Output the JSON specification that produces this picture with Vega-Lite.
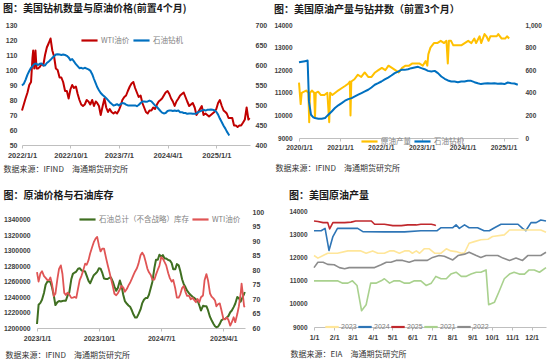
{
"$schema": "https://vega.github.io/schema/vega-lite/v6.json",
"padding": {"left": 2, "top": 4, "right": 0, "bottom": 0},
"background": "white",
"columns": 4,
"align": "none",
"spacing": {"row": 18, "column": 0},
"resolve": {"scale": {"color": "independent"}, "legend": {"color": "independent"}},
"config": {
  "view": {"stroke": null},
  "font": "Noto Sans CJK SC",
  "axis": {"grid": false, "labelFont": "Liberation Sans", "labelFontSize": 7, "labelColor": "#404040", "labelFontWeight": "bold", "domain": false, "ticks": false, "titleFont": "Noto Sans CJK SC", "titleFontSize": 8, "titleFontWeight": "normal", "titleColor": "#333333", "titleAnchor": "start", "titleAlign": "left", "titleBaseline": "middle"},
  "axisX": {"domain": true, "domainColor": "#bfbfbf", "ticks": true, "tickColor": "#bfbfbf", "tickSize": 3, "labelPadding": 3, "labelOverlap": false, "labelFlush": false},
  "title": {"anchor": "start", "fontSize": 10, "fontWeight": "bold", "font": "Noto Sans CJK SC", "color": "#1a1a1a", "frame": "bounds", "offset": 7},
  "legend": {"labelFont": "Noto Sans CJK SC", "labelFontSize": 7.5, "labelColor": "#7f7f7f", "symbolType": "stroke", "symbolStrokeWidth": 2.2, "symbolSize": 260, "title": null, "orient": "none", "direction": "horizontal", "columnPadding": 2, "labelOffset": 2, "padding": 0},
  "line": {"strokeJoin": "round"}
},
"concat": [
{"width": 1, "height": 1, "data": {"values": []}, "mark": {"type": "point", "opacity": 0}},
{
  "title": {"text": "图：美国钻机数量与原油价格(前置4个月)"},
  "width": 228, "height": 120,
  "encoding": {"x": {"field": "d", "type": "temporal",
    "scale": {"domain": [{"year": 2022, "month": 1, "date": 1}, {"year": 2025, "month": 7, "date": 10}]},
    "axis": {"values": [{"year": 2022, "month": 1, "date": 1}, {"year": 2022, "month": 10, "date": 1}, {"year": 2023, "month": 7, "date": 1}, {"year": 2024, "month": 4, "date": 1}, {"year": 2025, "month": 1, "date": 1}], "format": "%Y/%-m/%-d", "labelFontSize": 7.5, "title": "数据来源：IFIND\u3000海通期货研究所", "titleX": -19, "titleY": 24}}},
  "layer": [
    {"data": {"values": [
{"d":"2022-01-01","v":73},{"d":"2022-01-11","v":77},{"d":"2022-01-21","v":81},{"d":"2022-02-01","v":85},{"d":"2022-02-11","v":90},{"d":"2022-02-21","v":92},{"d":"2022-03-01","v":108},{"d":"2022-03-05","v":113},{"d":"2022-03-11","v":101},{"d":"2022-03-18","v":113},{"d":"2022-03-24","v":101},{"d":"2022-04-01","v":101},{"d":"2022-04-11","v":102},{"d":"2022-04-21","v":104},{"d":"2022-05-01","v":103},{"d":"2022-05-11","v":110},{"d":"2022-05-21","v":115},{"d":"2022-06-01","v":118},{"d":"2022-06-11","v":121},{"d":"2022-06-21","v":113},{"d":"2022-07-01","v":109},{"d":"2022-07-11","v":101},{"d":"2022-07-21","v":100},{"d":"2022-08-01","v":95},{"d":"2022-08-11","v":95},{"d":"2022-08-21","v":92},{"d":"2022-09-01","v":86},{"d":"2022-09-11","v":86},{"d":"2022-09-21","v":81},{"d":"2022-10-01","v":87},{"d":"2022-10-11","v":90},{"d":"2022-10-21","v":88},{"d":"2022-11-01","v":89},{"d":"2022-11-11","v":84},{"d":"2022-11-21","v":80},{"d":"2022-12-01","v":77},{"d":"2022-12-11","v":76},{"d":"2022-12-21","v":77},
{"d":"2023-01-01","v":80},{"d":"2023-01-11","v":79},{"d":"2023-01-21","v":77},{"d":"2023-02-01","v":80},{"d":"2023-02-11","v":76},{"d":"2023-02-21","v":79},{"d":"2023-03-01","v":78},{"d":"2023-03-11","v":76},{"d":"2023-03-21","v":70},{"d":"2023-04-01","v":76},{"d":"2023-04-11","v":81},{"d":"2023-04-21","v":75},{"d":"2023-05-01","v":72},{"d":"2023-05-11","v":74},{"d":"2023-05-21","v":72},{"d":"2023-06-01","v":71},{"d":"2023-06-11","v":72},{"d":"2023-06-21","v":71},{"d":"2023-07-01","v":73},{"d":"2023-07-11","v":76},{"d":"2023-07-21","v":80},{"d":"2023-08-01","v":82},{"d":"2023-08-11","v":83},{"d":"2023-08-21","v":86},{"d":"2023-09-01","v":89},{"d":"2023-09-11","v":91},{"d":"2023-09-21","v":92},{"d":"2023-10-01","v":88},{"d":"2023-10-11","v":85},{"d":"2023-10-21","v":82},{"d":"2023-11-01","v":83},{"d":"2023-11-11","v":78},{"d":"2023-11-21","v":75},{"d":"2023-12-01","v":72},{"d":"2023-12-11","v":71},{"d":"2023-12-21","v":73},
{"d":"2024-01-01","v":73},{"d":"2024-01-11","v":75},{"d":"2024-01-21","v":74},{"d":"2024-02-01","v":77},{"d":"2024-02-11","v":79},{"d":"2024-02-21","v":80},{"d":"2024-03-01","v":81},{"d":"2024-03-11","v":83},{"d":"2024-03-21","v":85},{"d":"2024-04-01","v":86},{"d":"2024-04-11","v":84},{"d":"2024-04-21","v":81},{"d":"2024-05-01","v":79},{"d":"2024-05-11","v":76},{"d":"2024-05-21","v":79},{"d":"2024-06-01","v":81},{"d":"2024-06-11","v":83},{"d":"2024-06-21","v":84},{"d":"2024-07-01","v":85},{"d":"2024-07-11","v":82},{"d":"2024-07-21","v":79},{"d":"2024-08-01","v":76},{"d":"2024-08-11","v":77},{"d":"2024-08-21","v":78},{"d":"2024-09-01","v":75},{"d":"2024-09-11","v":70},{"d":"2024-09-21","v":72},{"d":"2024-10-01","v":74},{"d":"2024-10-11","v":76},{"d":"2024-10-21","v":70},{"d":"2024-11-01","v":71},{"d":"2024-11-11","v":70},{"d":"2024-11-21","v":69},{"d":"2024-12-01","v":70},{"d":"2024-12-11","v":71},{"d":"2024-12-21","v":72},
{"d":"2025-01-01","v":74},{"d":"2025-01-11","v":78},{"d":"2025-01-21","v":80},{"d":"2025-02-01","v":76},{"d":"2025-02-11","v":73},{"d":"2025-02-21","v":72},{"d":"2025-03-01","v":71},{"d":"2025-03-11","v":68},{"d":"2025-03-21","v":68},{"d":"2025-04-01","v":68},{"d":"2025-04-11","v":63},{"d":"2025-04-21","v":63},{"d":"2025-05-01","v":62},{"d":"2025-05-11","v":63},{"d":"2025-05-21","v":63},{"d":"2025-06-01","v":65},{"d":"2025-06-11","v":67},{"d":"2025-06-21","v":75},{"d":"2025-07-01","v":67},{"d":"2025-07-08","v":68}
    ]},
    "mark": {"type": "line", "strokeWidth": 2},
    "encoding": {
      "y": {"field": "v", "type": "quantitative", "scale": {"domain": [50, 130]}, "axis": {"values": [50,60,70,80,90,100,110,120,130], "title": null, "labelPadding": 5}},
      "color": {"datum": "WTI油价", "scale": {"domain": ["WTI油价", "石油钻机"], "range": ["#C00000", "#0070C0"]}, "legend": {"legendX": 58, "legendY": 6}}
    }},
    {"data": {"values": [
{"d":"2022-01-01","v":549},{"d":"2022-01-11","v":553},{"d":"2022-01-21","v":563},{"d":"2022-02-01","v":576},{"d":"2022-02-11","v":585},{"d":"2022-02-21","v":593},{"d":"2022-03-01","v":597},{"d":"2022-03-11","v":602},{"d":"2022-03-21","v":604},{"d":"2022-04-01","v":600},{"d":"2022-04-11","v":603},{"d":"2022-04-21","v":604},{"d":"2022-05-01","v":599},{"d":"2022-05-11","v":599},{"d":"2022-05-21","v":605},{"d":"2022-06-01","v":609},{"d":"2022-06-11","v":613},{"d":"2022-06-21","v":618},{"d":"2022-07-01","v":622},{"d":"2022-07-11","v":626},{"d":"2022-07-21","v":627},{"d":"2022-08-01","v":626},{"d":"2022-08-11","v":625},{"d":"2022-08-21","v":626},{"d":"2022-09-01","v":625},{"d":"2022-09-11","v":623},{"d":"2022-09-21","v":619},{"d":"2022-10-01","v":612},{"d":"2022-10-11","v":615},{"d":"2022-10-21","v":609},{"d":"2022-11-01","v":602},{"d":"2022-11-11","v":597},{"d":"2022-11-21","v":592},{"d":"2022-12-01","v":593},{"d":"2022-12-11","v":591},{"d":"2022-12-21","v":593},
{"d":"2023-01-01","v":591},{"d":"2023-01-11","v":589},{"d":"2023-01-21","v":586},{"d":"2023-02-01","v":577},{"d":"2023-02-11","v":565},{"d":"2023-02-21","v":554},{"d":"2023-03-01","v":545},{"d":"2023-03-11","v":537},{"d":"2023-03-21","v":530},{"d":"2023-04-01","v":525},{"d":"2023-04-11","v":521},{"d":"2023-04-21","v":517},{"d":"2023-05-01","v":512},{"d":"2023-05-11","v":507},{"d":"2023-05-21","v":503},{"d":"2023-06-01","v":499},{"d":"2023-06-11","v":500},{"d":"2023-06-21","v":502},{"d":"2023-07-01","v":499},{"d":"2023-07-11","v":502},{"d":"2023-07-21","v":505},{"d":"2023-08-01","v":504},{"d":"2023-08-11","v":501},{"d":"2023-08-21","v":499},{"d":"2023-09-01","v":499},{"d":"2023-09-11","v":499},{"d":"2023-09-21","v":499},{"d":"2023-10-01","v":499},{"d":"2023-10-11","v":497},{"d":"2023-10-21","v":500},{"d":"2023-11-01","v":505},{"d":"2023-11-11","v":509},{"d":"2023-11-21","v":509},{"d":"2023-12-01","v":508},{"d":"2023-12-11","v":509},{"d":"2023-12-21","v":511},
{"d":"2024-01-01","v":509},{"d":"2024-01-11","v":504},{"d":"2024-01-21","v":499},{"d":"2024-02-01","v":495},{"d":"2024-02-11","v":490},{"d":"2024-02-21","v":485},{"d":"2024-03-01","v":481},{"d":"2024-03-11","v":479},{"d":"2024-03-21","v":480},{"d":"2024-04-01","v":485},{"d":"2024-04-11","v":486},{"d":"2024-04-21","v":486},{"d":"2024-05-01","v":485},{"d":"2024-05-11","v":486},{"d":"2024-05-21","v":485},{"d":"2024-06-01","v":486},{"d":"2024-06-11","v":482},{"d":"2024-06-21","v":482},{"d":"2024-07-01","v":480},{"d":"2024-07-11","v":480},{"d":"2024-07-21","v":478},{"d":"2024-08-01","v":479},{"d":"2024-08-11","v":479},{"d":"2024-08-21","v":478},{"d":"2024-09-01","v":478},{"d":"2024-09-11","v":479},{"d":"2024-09-21","v":482},{"d":"2024-10-01","v":484},{"d":"2024-10-11","v":486},{"d":"2024-10-21","v":488},{"d":"2024-11-01","v":486},{"d":"2024-11-11","v":488},{"d":"2024-11-21","v":488},{"d":"2024-12-01","v":489},{"d":"2024-12-11","v":488},{"d":"2024-12-21","v":487},
{"d":"2025-01-01","v":483},{"d":"2025-01-11","v":476},{"d":"2025-01-21","v":466},{"d":"2025-02-01","v":457},{"d":"2025-02-11","v":448},{"d":"2025-02-21","v":441},{"d":"2025-03-01","v":434},{"d":"2025-03-11","v":427},{"d":"2025-03-15","v":424}
    ]},
    "mark": {"type": "line", "strokeWidth": 2},
    "encoding": {
      "y": {"field": "v", "type": "quantitative", "scale": {"domain": [400, 700]}, "axis": {"orient": "right", "values": [400,450,500,550,600,650,700], "title": null, "labelPadding": 5}},
      "color": {"datum": "石油钻机"}
    }}
  ],
  "resolve": {"scale": {"y": "independent"}}
},
{"width": 5.8, "height": 1, "data": {"values": []}, "mark": {"type": "point", "opacity": 0}},
{
  "title": {"text": "图：美国原油产量与钻井数（前置3个月）"},
  "width": 219, "height": 113,
  "encoding": {"x": {"field": "d", "type": "temporal",
    "scale": {"domain": [{"year": 2020, "month": 1, "date": 1}, {"year": 2025, "month": 5, "date": 10}]},
    "axis": {"values": [{"year": 2020, "month": 1, "date": 1}, {"year": 2021, "month": 1, "date": 1}, {"year": 2022, "month": 1, "date": 1}, {"year": 2023, "month": 1, "date": 1}, {"year": 2024, "month": 1, "date": 1}, {"year": 2025, "month": 1, "date": 1}], "format": "%Y/%-m/%-d", "labelFontSize": 6.8, "title": "数据来源：IFIND\u3000海通期货研究所", "titleX": -24, "titleY": 30}}},
  "layer": [
    {"data": {"values": [
{"d":"2020-01-01","v":11450},{"d":"2020-01-16","v":10500},{"d":"2020-01-25","v":11000},{"d":"2020-02-15","v":11050},{"d":"2020-03-05","v":11100},{"d":"2020-03-25","v":11000},{"d":"2020-04-01","v":9700},{"d":"2020-04-08","v":11000},{"d":"2020-04-25","v":11100},{"d":"2020-05-15","v":11000},{"d":"2020-05-23","v":9900},{"d":"2020-05-30","v":11000},{"d":"2020-06-20","v":11050},{"d":"2020-07-15","v":10900},{"d":"2020-08-15","v":10900},{"d":"2020-09-10","v":11000},{"d":"2020-09-27","v":9700},{"d":"2020-10-05","v":11000},{"d":"2020-10-25","v":10900},{"d":"2020-11-20","v":11000},{"d":"2020-12-15","v":11100},
{"d":"2021-01-15","v":11200},{"d":"2021-02-15","v":11300},{"d":"2021-03-15","v":11400},{"d":"2021-03-30","v":11500},{"d":"2021-04-05","v":10000},{"d":"2021-04-12","v":11500},{"d":"2021-05-10","v":11600},{"d":"2021-06-10","v":11800},{"d":"2021-07-10","v":11700},{"d":"2021-08-10","v":11900},{"d":"2021-09-10","v":11700},{"d":"2021-10-10","v":11700},{"d":"2021-11-10","v":11900},{"d":"2021-12-10","v":12000},
{"d":"2022-01-10","v":12100},{"d":"2022-02-10","v":12000},{"d":"2022-03-10","v":12200},{"d":"2022-04-10","v":12100},{"d":"2022-05-10","v":12000},{"d":"2022-06-10","v":11900},{"d":"2022-07-10","v":12100},{"d":"2022-08-10","v":12200},{"d":"2022-09-10","v":12200},{"d":"2022-10-10","v":12300},{"d":"2022-11-10","v":12300},{"d":"2022-12-10","v":12300},
{"d":"2023-01-10","v":12200},{"d":"2023-02-05","v":12400},{"d":"2023-02-20","v":12200},{"d":"2023-03-01","v":12700},{"d":"2023-03-20","v":13000},{"d":"2023-04-20","v":13200},{"d":"2023-05-20","v":13200},{"d":"2023-06-20","v":13300},{"d":"2023-07-20","v":13200},{"d":"2023-08-10","v":13300},{"d":"2023-08-22","v":12300},{"d":"2023-09-01","v":13300},{"d":"2023-09-20","v":13300},{"d":"2023-10-10","v":13100},{"d":"2023-11-20","v":13100},{"d":"2023-12-20","v":13100},
{"d":"2024-01-20","v":13200},{"d":"2024-02-20","v":13300},{"d":"2024-03-20","v":13200},{"d":"2024-04-15","v":13400},{"d":"2024-05-01","v":13200},{"d":"2024-06-01","v":13500},{"d":"2024-06-15","v":13200},{"d":"2024-07-15","v":13600},{"d":"2024-08-01","v":13500},{"d":"2024-08-20","v":13300},{"d":"2024-09-05","v":13500},{"d":"2024-10-10","v":13500},{"d":"2024-11-01","v":13500},{"d":"2024-11-15","v":13600},{"d":"2024-12-15","v":13400},{"d":"2025-01-15","v":13400},{"d":"2025-02-01","v":13500},{"d":"2025-02-20","v":13400}
    ]},
    "mark": {"type": "line", "strokeWidth": 2},
    "encoding": {
      "y": {"field": "v", "type": "quantitative", "scale": {"domain": [9000, 14000]}, "axis": {"values": [9000,10000,11000,12000,13000,14000], "format": "d", "title": null, "labelPadding": 7, "labelFontSize": 6.5}},
      "color": {"datum": "原油产量", "scale": {"domain": ["原油产量", "石油钻机"], "range": ["#FFC000", "#0070C0"]}, "legend": {"legendX": 61, "legendY": 107}}
    }},
    {"data": {"values": [
{"d":"2020-01-01","v":670},{"d":"2020-02-23","v":680},{"d":"2020-03-18","v":685},{"d":"2020-03-30","v":324},{"d":"2020-04-17","v":206},{"d":"2020-05-08","v":183},{"d":"2020-05-23","v":177},{"d":"2020-06-22","v":171},{"d":"2020-07-22","v":171},{"d":"2020-08-21","v":177},{"d":"2020-09-04","v":191},{"d":"2020-09-19","v":206},{"d":"2020-10-19","v":235},{"d":"2020-11-17","v":265},{"d":"2020-12-17","v":289},
{"d":"2021-01-16","v":309},{"d":"2021-02-15","v":330},{"d":"2021-03-16","v":344},{"d":"2021-04-15","v":353},{"d":"2021-05-14","v":368},{"d":"2021-06-13","v":383},{"d":"2021-07-12","v":397},{"d":"2021-08-11","v":412},{"d":"2021-09-10","v":427},{"d":"2021-10-09","v":447},{"d":"2021-11-08","v":471},{"d":"2021-12-08","v":485},
{"d":"2022-01-06","v":500},{"d":"2022-02-05","v":518},{"d":"2022-03-07","v":535},{"d":"2022-04-05","v":553},{"d":"2022-05-05","v":574},{"d":"2022-06-04","v":588},{"d":"2022-07-03","v":603},{"d":"2022-08-02","v":603},{"d":"2022-09-01","v":609},{"d":"2022-09-30","v":618},{"d":"2022-10-30","v":624},{"d":"2022-11-29","v":630},{"d":"2022-12-29","v":618},
{"d":"2023-01-27","v":609},{"d":"2023-02-26","v":594},{"d":"2023-03-28","v":588},{"d":"2023-04-27","v":594},{"d":"2023-05-26","v":574},{"d":"2023-06-25","v":544},{"d":"2023-07-25","v":524},{"d":"2023-08-23","v":509},{"d":"2023-09-22","v":500},{"d":"2023-10-22","v":500},{"d":"2023-11-20","v":494},{"d":"2023-12-20","v":500},
{"d":"2024-01-18","v":500},{"d":"2024-02-17","v":506},{"d":"2024-03-17","v":506},{"d":"2024-04-16","v":494},{"d":"2024-05-16","v":485},{"d":"2024-06-14","v":477},{"d":"2024-07-14","v":482},{"d":"2024-08-13","v":485},{"d":"2024-09-11","v":482},{"d":"2024-10-11","v":485},{"d":"2024-11-10","v":480},{"d":"2024-12-10","v":482},
{"d":"2025-01-09","v":477},{"d":"2025-02-08","v":491},{"d":"2025-03-10","v":485},{"d":"2025-04-08","v":482},{"d":"2025-05-08","v":471}
    ]},
    "mark": {"type": "line", "strokeWidth": 2},
    "encoding": {
      "y": {"field": "v", "type": "quantitative", "scale": {"domain": [0, 1000]}, "axis": {"orient": "right", "values": [0,200,400,600,800,1000], "title": null, "labelPadding": 7, "labelFontSize": 6.5}},
      "color": {"datum": "石油钻机"}
    }}
  ],
  "resolve": {"scale": {"y": "independent"}}
},
{"width": 1, "height": 1, "data": {"values": []}, "mark": {"type": "point", "opacity": 0}},
{
  "title": {"text": "图：原油价格与石油库存"},
  "width": 208, "height": 116,
  "encoding": {"x": {"field": "d", "type": "temporal",
    "scale": {"domain": [{"year": 2023, "month": 1, "date": 1}, {"year": 2025, "month": 7, "date": 5}]},
    "axis": {"values": [{"year": 2023, "month": 1, "date": 1}, {"year": 2023, "month": 10, "date": 1}, {"year": 2024, "month": 7, "date": 1}, {"year": 2025, "month": 4, "date": 1}], "format": "%Y/%-m/%-d", "labelFontSize": 7.1, "title": "数据来源：IFIND\u3000海通期货研究所", "titleX": -32, "titleY": 27}}},
  "layer": [
    {"data": {"values": [
{"d":"2023-01-01","v":1205200},{"d":"2023-01-08","v":1230000},{"d":"2023-01-16","v":1232500},{"d":"2023-01-23","v":1236500},{"d":"2023-02-01","v":1245700},{"d":"2023-02-08","v":1256000},{"d":"2023-02-16","v":1260000},{"d":"2023-02-23","v":1260000},{"d":"2023-03-01","v":1259600},{"d":"2023-03-08","v":1252600},{"d":"2023-03-16","v":1242000},{"d":"2023-03-23","v":1229600},{"d":"2023-04-01","v":1233500},{"d":"2023-04-08","v":1234800},{"d":"2023-04-16","v":1234300},{"d":"2023-04-23","v":1234800},{"d":"2023-05-01","v":1235400},{"d":"2023-05-08","v":1235200},{"d":"2023-05-16","v":1242200},{"d":"2023-05-23","v":1245700},{"d":"2023-06-01","v":1263000},{"d":"2023-06-08","v":1270000},{"d":"2023-06-16","v":1271700},{"d":"2023-06-23","v":1273000},{"d":"2023-07-01","v":1276600},{"d":"2023-07-08","v":1277300},{"d":"2023-07-16","v":1274400},{"d":"2023-07-23","v":1273900},{"d":"2023-08-01","v":1273000},{"d":"2023-08-08","v":1267400},{"d":"2023-08-16","v":1260900},{"d":"2023-08-23","v":1257800},{"d":"2023-09-01","v":1263900},{"d":"2023-09-08","v":1268300},{"d":"2023-09-16","v":1270400},{"d":"2023-09-23","v":1272600},{"d":"2023-10-01","v":1277200},{"d":"2023-10-08","v":1276800},{"d":"2023-10-16","v":1270900},{"d":"2023-10-23","v":1263900},{"d":"2023-11-01","v":1263500},{"d":"2023-11-08","v":1263400},{"d":"2023-11-16","v":1265000},{"d":"2023-11-23","v":1265200},{"d":"2023-12-01","v":1260000},{"d":"2023-12-08","v":1253500},{"d":"2023-12-16","v":1248200},{"d":"2023-12-23","v":1251700},
{"d":"2024-01-01","v":1261400},{"d":"2024-01-08","v":1255000},{"d":"2024-01-16","v":1242600},{"d":"2024-01-23","v":1234800},{"d":"2024-02-01","v":1231300},{"d":"2024-02-08","v":1229100},{"d":"2024-02-16","v":1227000},{"d":"2024-02-23","v":1222600},{"d":"2024-03-01","v":1217400},{"d":"2024-03-08","v":1213600},{"d":"2024-03-16","v":1213700},{"d":"2024-03-23","v":1217900},{"d":"2024-04-01","v":1224000},{"d":"2024-04-08","v":1231800},{"d":"2024-04-16","v":1236500},{"d":"2024-04-23","v":1238700},{"d":"2024-05-01","v":1238700},{"d":"2024-05-08","v":1243000},{"d":"2024-05-16","v":1251700},{"d":"2024-05-23","v":1259600},{"d":"2024-06-01","v":1277800},{"d":"2024-06-08","v":1288300},{"d":"2024-06-16","v":1288200},{"d":"2024-06-23","v":1294800},{"d":"2024-07-01","v":1292200},{"d":"2024-07-08","v":1294300},{"d":"2024-07-16","v":1290000},{"d":"2024-07-23","v":1290000},{"d":"2024-08-01","v":1287800},{"d":"2024-08-08","v":1287400},{"d":"2024-08-16","v":1284000},{"d":"2024-08-23","v":1276000},{"d":"2024-09-01","v":1276100},{"d":"2024-09-08","v":1282600},{"d":"2024-09-16","v":1281000},{"d":"2024-09-23","v":1273600},{"d":"2024-10-01","v":1263000},{"d":"2024-10-08","v":1257000},{"d":"2024-10-16","v":1252600},{"d":"2024-10-23","v":1248200},{"d":"2024-11-01","v":1244700},{"d":"2024-11-08","v":1242600},{"d":"2024-11-16","v":1240400},{"d":"2024-11-23","v":1239000},{"d":"2024-12-01","v":1237000},{"d":"2024-12-08","v":1235600},{"d":"2024-12-16","v":1229100},{"d":"2024-12-23","v":1222600},
{"d":"2025-01-01","v":1228700},{"d":"2025-01-08","v":1228100},{"d":"2025-01-16","v":1228200},{"d":"2025-01-23","v":1223000},{"d":"2025-02-01","v":1214300},{"d":"2025-02-08","v":1210000},{"d":"2025-02-16","v":1205600},{"d":"2025-02-23","v":1202200},{"d":"2025-03-01","v":1200900},{"d":"2025-03-08","v":1201700},{"d":"2025-03-16","v":1205300},{"d":"2025-03-23","v":1209900},{"d":"2025-04-01","v":1211700},{"d":"2025-04-08","v":1211700},{"d":"2025-04-16","v":1213500},{"d":"2025-04-23","v":1215600},{"d":"2025-05-01","v":1220400},{"d":"2025-05-08","v":1222600},{"d":"2025-05-16","v":1227000},{"d":"2025-05-23","v":1231300},{"d":"2025-06-01","v":1240000},{"d":"2025-06-08","v":1238700},{"d":"2025-06-16","v":1234000},{"d":"2025-06-23","v":1238900},{"d":"2025-07-01","v":1244000},{"d":"2025-07-04","v":1246500}
    ]},
    "mark": {"type": "line", "strokeWidth": 2},
    "encoding": {
      "y": {"field": "v", "type": "quantitative", "scale": {"domain": [1200000, 1350000]}, "axis": {"values": [1200000,1220000,1240000,1260000,1280000,1300000,1320000,1340000], "format": "d", "title": null, "labelPadding": 7, "labelFontSize": 6.8}},
      "color": {"datum": "石油总计（不含战略）库存", "scale": {"domain": ["石油总计（不含战略）库存", "WTI油价"], "range": ["#3F6F21", "#E05555"]}, "legend": {"legendX": 41, "legendY": -2}}
    }},
    {"data": {"values": [
{"d":"2023-01-01","v":79.3},{"d":"2023-01-08","v":76},{"d":"2023-01-16","v":78.8},{"d":"2023-01-23","v":79.6},{"d":"2023-02-01","v":77.9},{"d":"2023-02-08","v":77.3},{"d":"2023-02-16","v":76.5},{"d":"2023-02-23","v":76.5},{"d":"2023-03-01","v":77.4},{"d":"2023-03-08","v":75.3},{"d":"2023-03-16","v":71},{"d":"2023-03-23","v":71.8},{"d":"2023-04-01","v":77},{"d":"2023-04-08","v":80.4},{"d":"2023-04-16","v":81.6},{"d":"2023-04-23","v":78.7},{"d":"2023-05-01","v":72.1},{"d":"2023-05-08","v":71.4},{"d":"2023-05-16","v":72.2},{"d":"2023-05-23","v":71.6},{"d":"2023-06-01","v":70.4},{"d":"2023-06-08","v":70.5},{"d":"2023-06-16","v":70.7},{"d":"2023-06-23","v":70.4},{"d":"2023-07-01","v":73.7},{"d":"2023-07-08","v":76.5},{"d":"2023-07-16","v":78},{"d":"2023-07-23","v":79.7},{"d":"2023-08-01","v":82.2},{"d":"2023-08-08","v":81.8},{"d":"2023-08-16","v":83.4},{"d":"2023-08-23","v":85.7},{"d":"2023-09-01","v":87.9},{"d":"2023-09-08","v":89.6},{"d":"2023-09-16","v":90.8},{"d":"2023-09-23","v":91.4},{"d":"2023-10-01","v":88.4},{"d":"2023-10-08","v":86.4},{"d":"2023-10-16","v":87.4},{"d":"2023-10-23","v":87.4},{"d":"2023-11-01","v":84.2},{"d":"2023-11-08","v":81.8},{"d":"2023-11-16","v":79.3},{"d":"2023-11-23","v":77},{"d":"2023-12-01","v":74.4},{"d":"2023-12-08","v":71.8},{"d":"2023-12-16","v":71.3},{"d":"2023-12-23","v":72},
{"d":"2024-01-01","v":73.3},{"d":"2024-01-08","v":74.5},{"d":"2024-01-16","v":74},{"d":"2024-01-23","v":72.5},{"d":"2024-02-01","v":73.5},{"d":"2024-02-08","v":74.7},{"d":"2024-02-16","v":75.8},{"d":"2024-02-23","v":77},{"d":"2024-03-01","v":78.3},{"d":"2024-03-08","v":79.5},{"d":"2024-03-16","v":80.6},{"d":"2024-03-23","v":82.2},{"d":"2024-04-01","v":85.1},{"d":"2024-04-08","v":86},{"d":"2024-04-16","v":85},{"d":"2024-04-23","v":83},{"d":"2024-05-01","v":80.5},{"d":"2024-05-08","v":79.2},{"d":"2024-05-16","v":78.3},{"d":"2024-05-23","v":76.7},{"d":"2024-06-01","v":76.7},{"d":"2024-06-08","v":78.4},{"d":"2024-06-16","v":80.1},{"d":"2024-06-23","v":81.4},{"d":"2024-07-01","v":84.4},{"d":"2024-07-08","v":83.9},{"d":"2024-07-16","v":82.7},{"d":"2024-07-23","v":81.6},{"d":"2024-08-01","v":78.9},{"d":"2024-08-08","v":77.2},{"d":"2024-08-16","v":76},{"d":"2024-08-23","v":76.6},{"d":"2024-09-01","v":73.6},{"d":"2024-09-08","v":70.5},{"d":"2024-09-16","v":70.5},{"d":"2024-09-23","v":71.6},{"d":"2024-10-01","v":73.8},{"d":"2024-10-08","v":74.5},{"d":"2024-10-16","v":72.4},{"d":"2024-10-23","v":71.1},{"d":"2024-11-01","v":71.1},{"d":"2024-11-08","v":69.9},{"d":"2024-11-16","v":70.4},{"d":"2024-11-23","v":69.7},{"d":"2024-12-01","v":68.9},{"d":"2024-12-08","v":70},{"d":"2024-12-16","v":68.9},{"d":"2024-12-23","v":70.6},
{"d":"2025-01-01","v":71.2},{"d":"2025-01-08","v":76.5},{"d":"2025-01-16","v":78.6},{"d":"2025-01-23","v":76.5},{"d":"2025-02-01","v":71.9},{"d":"2025-02-08","v":70.8},{"d":"2025-02-16","v":70.2},{"d":"2025-02-23","v":69.5},{"d":"2025-03-01","v":67.5},{"d":"2025-03-08","v":68.2},{"d":"2025-03-16","v":68.5},{"d":"2025-03-23","v":66.2},{"d":"2025-04-01","v":63.1},{"d":"2025-04-08","v":63},{"d":"2025-04-16","v":63.6},{"d":"2025-04-23","v":62.8},{"d":"2025-05-01","v":60.8},{"d":"2025-05-08","v":62},{"d":"2025-05-16","v":63.7},{"d":"2025-05-23","v":62},{"d":"2025-06-01","v":64.8},{"d":"2025-06-08","v":67.5},{"d":"2025-06-16","v":71.9},{"d":"2025-06-20","v":75.3},{"d":"2025-06-23","v":73.3},{"d":"2025-07-01","v":67.5},{"d":"2025-07-04","v":67.2}
    ]},
    "mark": {"type": "line", "strokeWidth": 1.8},
    "encoding": {
      "y": {"field": "v", "type": "quantitative", "scale": {"domain": [60, 100]}, "axis": {"orient": "right", "values": [60,65,70,75,80,85,90,95,100], "title": null, "labelPadding": 7}},
      "color": {"datum": "WTI油价"}
    }}
  ],
  "resolve": {"scale": {"y": "independent"}}
},
{"width": 0.3, "height": 1, "data": {"values": []}, "mark": {"type": "point", "opacity": 0}},
{
  "title": {"text": "图：美国原油产量"},
  "width": 232, "height": 116,
  "data": {"values": [
{"y":"2025","m":"01-01","v":13570},{"y":"2025","m":"01-07","v":13550},{"y":"2025","m":"01-15","v":13500},{"y":"2025","m":"01-22","v":13500},{"y":"2025","m":"01-25","v":13230},{"y":"2025","m":"01-30","v":13500},{"y":"2025","m":"02-06","v":13500},{"y":"2025","m":"02-17","v":13500},{"y":"2025","m":"02-27","v":13520},{"y":"2025","m":"03-06","v":13570},{"y":"2025","m":"03-19","v":13570},{"y":"2025","m":"03-30","v":13570},{"y":"2025","m":"04-04","v":13430},{"y":"2025","m":"04-19","v":13430},{"y":"2025","m":"05-02","v":13370},{"y":"2025","m":"05-15","v":13370},{"y":"2025","m":"05-25","v":13400},{"y":"2025","m":"06-07","v":13400},{"y":"2025","m":"06-14","v":13430},{"y":"2025","m":"06-30","v":13430},{"y":"2025","m":"07-05","v":13400},{"y":"2025","m":"07-07","v":13370},
{"y":"2024","m":"01-01","v":13150},{"y":"2024","m":"01-12","v":13150},{"y":"2024","m":"01-18","v":13250},{"y":"2024","m":"01-24","v":12300},{"y":"2024","m":"01-30","v":12900},{"y":"2024","m":"02-06","v":13250},{"y":"2024","m":"02-27","v":13250},{"y":"2024","m":"03-09","v":13250},{"y":"2024","m":"03-17","v":13110},{"y":"2024","m":"04-19","v":13100},{"y":"2024","m":"05-20","v":13100},{"y":"2024","m":"06-14","v":13150},{"y":"2024","m":"07-09","v":13150},{"y":"2024","m":"07-15","v":13280},{"y":"2024","m":"08-02","v":13280},{"y":"2024","m":"08-07","v":13400},{"y":"2024","m":"08-12","v":13250},{"y":"2024","m":"08-20","v":13400},{"y":"2024","m":"08-27","v":13280},{"y":"2024","m":"09-09","v":13280},{"y":"2024","m":"09-19","v":13150},{"y":"2024","m":"09-27","v":13150},{"y":"2024","m":"10-05","v":13280},{"y":"2024","m":"10-15","v":13430},{"y":"2024","m":"10-30","v":13430},{"y":"2024","m":"11-10","v":13430},{"y":"2024","m":"11-17","v":13250},{"y":"2024","m":"11-22","v":13150},{"y":"2024","m":"11-30","v":13500},{"y":"2024","m":"12-08","v":13500},{"y":"2024","m":"12-15","v":13610},{"y":"2024","m":"12-23","v":13570},
{"y":"2023","m":"01-01","v":12080},{"y":"2023","m":"01-07","v":11970},{"y":"2023","m":"01-15","v":12080},{"y":"2023","m":"01-22","v":12180},{"y":"2023","m":"02-06","v":12180},{"y":"2023","m":"02-22","v":12280},{"y":"2023","m":"03-14","v":12280},{"y":"2023","m":"03-22","v":12180},{"y":"2023","m":"04-01","v":12280},{"y":"2023","m":"04-09","v":12180},{"y":"2023","m":"04-19","v":12180},{"y":"2023","m":"04-27","v":12280},{"y":"2023","m":"05-04","v":12280},{"y":"2023","m":"05-12","v":12180},{"y":"2023","m":"05-20","v":12280},{"y":"2023","m":"05-27","v":12280},{"y":"2023","m":"06-01","v":12180},{"y":"2023","m":"06-07","v":12280},{"y":"2023","m":"06-12","v":12180},{"y":"2023","m":"06-19","v":12370},{"y":"2023","m":"06-27","v":12370},{"y":"2023","m":"07-05","v":12180},{"y":"2023","m":"07-15","v":12180},{"y":"2023","m":"07-23","v":12370},{"y":"2023","m":"07-30","v":12280},{"y":"2023","m":"08-07","v":12250},{"y":"2023","m":"08-15","v":12180},{"y":"2023","m":"08-20","v":12200},{"y":"2023","m":"08-27","v":12610},{"y":"2023","m":"09-04","v":12680},{"y":"2023","m":"09-14","v":12760},{"y":"2023","m":"09-25","v":12780},{"y":"2023","m":"10-02","v":12900},{"y":"2023","m":"10-20","v":12970},{"y":"2023","m":"10-28","v":13180},{"y":"2023","m":"11-10","v":13180},{"y":"2023","m":"11-30","v":13180},{"y":"2023","m":"12-15","v":13180},{"y":"2023","m":"12-23","v":13080},
{"y":"2022","m":"01-01","v":11560},{"y":"2022","m":"01-07","v":11790},{"y":"2022","m":"01-15","v":11790},{"y":"2022","m":"01-22","v":11700},{"y":"2022","m":"02-01","v":11680},{"y":"2022","m":"02-09","v":11560},{"y":"2022","m":"02-17","v":11510},{"y":"2022","m":"02-24","v":11560},{"y":"2022","m":"03-14","v":11560},{"y":"2022","m":"04-04","v":11560},{"y":"2022","m":"04-14","v":11680},{"y":"2022","m":"04-22","v":11790},{"y":"2022","m":"04-29","v":11790},{"y":"2022","m":"05-07","v":11870},{"y":"2022","m":"05-17","v":11870},{"y":"2022","m":"05-27","v":11790},{"y":"2022","m":"06-04","v":11870},{"y":"2022","m":"06-24","v":11870},{"y":"2022","m":"07-02","v":12000},{"y":"2022","m":"07-12","v":12080},{"y":"2022","m":"07-20","v":12050},{"y":"2022","m":"08-02","v":11890},{"y":"2022","m":"08-10","v":12080},{"y":"2022","m":"08-20","v":12140},{"y":"2022","m":"08-27","v":12220},{"y":"2022","m":"09-07","v":12080},{"y":"2022","m":"09-14","v":12000},{"y":"2022","m":"09-22","v":12080},{"y":"2022","m":"10-10","v":12080},{"y":"2022","m":"10-18","v":11970},{"y":"2022","m":"10-28","v":11870},{"y":"2022","m":"11-07","v":11970},{"y":"2022","m":"11-17","v":11870},{"y":"2022","m":"11-25","v":12080},{"y":"2022","m":"12-15","v":12080},{"y":"2022","m":"12-23","v":12220},
{"y":"2021","m":"01-01","v":10990},{"y":"2021","m":"01-27","v":10990},{"y":"2021","m":"02-06","v":10990},{"y":"2021","m":"02-14","v":10890},{"y":"2021","m":"02-22","v":10890},{"y":"2021","m":"03-01","v":10990},{"y":"2021","m":"03-08","v":10790},{"y":"2021","m":"03-15","v":9700},{"y":"2021","m":"03-22","v":9960},{"y":"2021","m":"03-29","v":10890},{"y":"2021","m":"04-06","v":10890},{"y":"2021","m":"04-14","v":10990},{"y":"2021","m":"04-19","v":11080},{"y":"2021","m":"04-27","v":10890},{"y":"2021","m":"05-04","v":10990},{"y":"2021","m":"05-12","v":10990},{"y":"2021","m":"05-20","v":10890},{"y":"2021","m":"05-27","v":10890},{"y":"2021","m":"06-04","v":10990},{"y":"2021","m":"06-14","v":10990},{"y":"2021","m":"06-22","v":10790},{"y":"2021","m":"06-30","v":10890},{"y":"2021","m":"07-07","v":11180},{"y":"2021","m":"07-15","v":11080},{"y":"2021","m":"07-23","v":11080},{"y":"2021","m":"07-30","v":11280},{"y":"2021","m":"08-07","v":11360},{"y":"2021","m":"08-15","v":11180},{"y":"2021","m":"08-22","v":11180},{"y":"2021","m":"08-30","v":11280},{"y":"2021","m":"09-07","v":11360},{"y":"2021","m":"09-14","v":11360},{"y":"2021","m":"09-22","v":11460},{"y":"2021","m":"09-26","v":9960},{"y":"2021","m":"10-05","v":10070},{"y":"2021","m":"10-12","v":10530},{"y":"2021","m":"10-20","v":11080},{"y":"2021","m":"10-28","v":11280},{"y":"2021","m":"11-04","v":11360},{"y":"2021","m":"11-12","v":11280},{"y":"2021","m":"11-20","v":11280},{"y":"2021","m":"11-27","v":11460},{"y":"2021","m":"12-05","v":11460},{"y":"2021","m":"12-13","v":11360},{"y":"2021","m":"12-23","v":11560}
  ], "format": {"parse": {"m": "date:'%m-%d'"}}},
  "mark": {"type": "line", "strokeWidth": 1.6},
  "encoding": {
    "x": {"field": "m", "type": "temporal",
      "scale": {"domain": [{"year": 1900, "month": 1, "date": 1}, {"year": 1900, "month": 12, "date": 23}]},
      "axis": {"values": [{"year": 1900, "month": 1, "date": 1}, {"year": 1900, "month": 2, "date": 1}, {"year": 1900, "month": 3, "date": 1}, {"year": 1900, "month": 4, "date": 1}, {"year": 1900, "month": 5, "date": 1}, {"year": 1900, "month": 6, "date": 1}, {"year": 1900, "month": 7, "date": 1}, {"year": 1900, "month": 8, "date": 1}, {"year": 1900, "month": 9, "date": 1}, {"year": 1900, "month": 10, "date": 1}, {"year": 1900, "month": 11, "date": 1}, {"year": 1900, "month": 12, "date": 1}], "format": "%-m/%-d", "title": "数据来源：EIA\u3000海通期货研究所", "titleX": -24, "titleY": 27}},
    "y": {"field": "v", "type": "quantitative", "scale": {"domain": [9000, 14000]}, "axis": {"values": [9000,10000,11000,12000,13000,14000], "format": "d", "title": null, "labelPadding": 7, "labelFontSize": 6.5}},
    "color": {"field": "y", "type": "nominal", "scale": {"domain": ["2023", "2024", "2025", "2021", "2022"], "range": ["#FFE699", "#2E75B6", "#C0282D", "#A9D18E", "#8C8C8C"]}, "legend": {"legendX": 10, "legendY": 108, "columnPadding": 0, "symbolSize": 180, "labelOffset": 1, "labelFontSize": 7, "labelFont": "Liberation Sans"}}
  }
}
]
}
